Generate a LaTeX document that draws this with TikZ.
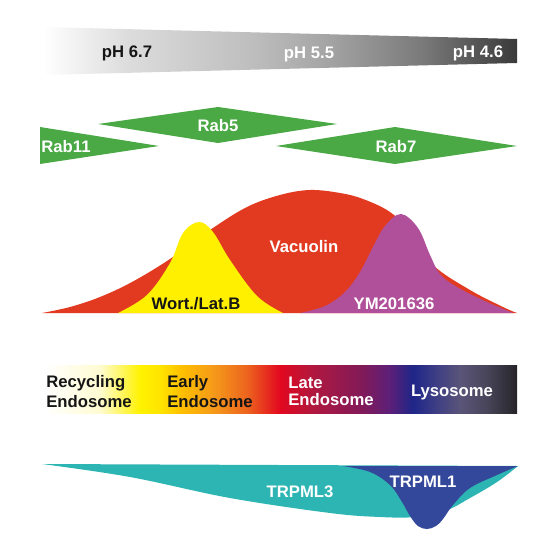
\documentclass[tikz,border=0pt]{standalone}
\usepackage{fontspec}
\setmainfont{Liberation Sans}

\definecolor{rabgreen}{HTML}{4AA845}
\definecolor{vacred}{HTML}{E23A20}
\definecolor{wortyellow}{HTML}{FFF000}
\definecolor{ympurple}{HTML}{B0509A}
\definecolor{mlteal}{HTML}{2CB5B3}
\definecolor{mlnavy}{HTML}{33489A}
\definecolor{inkblack}{HTML}{151515}

% pH gradient colours
\definecolor{phB}{HTML}{DCDCDC}
\definecolor{phC}{HTML}{BEBEBE}
\definecolor{phD}{HTML}{A4A4A4}
\definecolor{phE}{HTML}{7A7A7A}
\definecolor{phF}{HTML}{3A3A3A}
\pgfdeclarehorizontalshading{phbar}{100bp}{color(0bp)=(white); color(25bp)=(white);
  color(34bp)=(phB); color(47bp)=(phC); color(55bp)=(phD); color(65bp)=(phE);
  color(75bp)=(phF); color(100bp)=(phF)}

% endosome gradient colours
\definecolor{endoA}{HTML}{FFFBD2}
\definecolor{endoB}{HTML}{FFF200}
\definecolor{endoC}{HTML}{FFE400}
\definecolor{endoD}{HTML}{FFBF00}
\definecolor{endoE}{HTML}{F59A1A}
\definecolor{endoF}{HTML}{EC641E}
\definecolor{endoG}{HTML}{E2081F}
\definecolor{endoH}{HTML}{B0183F}
\definecolor{endoI}{HTML}{801A5A}
\definecolor{endoJ}{HTML}{5C1F78}
\definecolor{endoK}{HTML}{1E2688}
\definecolor{endoL}{HTML}{3D3D85}
\definecolor{endoM}{HTML}{5A5478}
\definecolor{endoN}{HTML}{48455A}
\definecolor{endoO}{HTML}{262428}
\pgfdeclarehorizontalshading{endobar}{100bp}{color(0bp)=(white); color(25bp)=(white);
  color(30.8bp)=(endoA); color(35.1bp)=(endoB); color(37.2bp)=(endoC);
  color(39.5bp)=(endoD); color(42.8bp)=(endoE); color(46.4bp)=(endoF);
  color(49.9bp)=(endoG); color(53.4bp)=(endoH); color(58.7bp)=(endoI);
  color(61.5bp)=(endoJ); color(64bp)=(endoK); color(66.3bp)=(endoL);
  color(69bp)=(endoM); color(71.8bp)=(endoN); color(75bp)=(endoO); color(100bp)=(endoO)}

\begin{document}
\begin{tikzpicture}[
    x=0.02cm, y=-0.02cm,
    lbl/.style={font=\fontsize{9.5}{11.5}\selectfont\bfseries, inner sep=0pt, text=inkblack},
    wlbl/.style={lbl, text=white},
    twoline/.style={lbl, align=left, anchor=west},
    rab/.style={fill=rabgreen}
]
\useasboundingbox (0,0) rectangle (550,550);

% pH gradient
\shade[shading=phbar] (43,27) -- (517,39) -- (517,63) -- (43,75) -- cycle;
\node[lbl, anchor=base] (ph67) at (127,58) {pH 6.7};
\node[wlbl, anchor=base] (ph55) at (309,59) {pH 5.5};
\node[wlbl, anchor=base] (ph46) at (478,58) {pH 4.6};

% Rab domains
\fill[rab] (40,127) -- (159,146) -- (40,164) -- cycle;
\fill[rab] (98,124) -- (218,107) -- (337,124) -- (218,143) -- cycle;
\fill[rab] (276,146) -- (395,127) -- (517,146) -- (395,164) -- cycle;
\node[wlbl, anchor=base] (rab11) at (66,153) {Rab11};
\node[wlbl, anchor=base] (rab5) at (218,132) {Rab5};
\node[wlbl, anchor=base] (rab7) at (396,153) {Rab7};

% Inhibitor profiles
\fill[vacred] plot[smooth, tension=0.6] coordinates {(42,313) (70,307) (100,297)
  (132,282) (170,259) (210,230) (247,207) (280,195) (310,190) (340,193) (363,199)
  (390,212) (410,232) (433,265) (470,290) (503,307) (517,313)} -- cycle;
\fill[wortyellow] plot[smooth, tension=0.6] coordinates {(118,313) (147,295)
  (170,263) (183,233) (199,222) (213,232) (230,260) (257,296) (283,313)} -- cycle;
\fill[ympurple] plot[smooth, tension=0.6] coordinates {(300,313) (325,306)
  (345,292) (360,272) (373,247) (385,226) (401,214) (418,228) (430,255) (440,274)
  (457,287) (487,302) (513,313)} -- cycle;
\node[wlbl, anchor=base] (vacuolin) at (304,253) {Vacuolin};
\node[lbl, anchor=base] (wort) at (196,309) {Wort./Lat.B};
\node[wlbl, anchor=base] (ym) at (394,309) {YM201636};

% Endocytic compartments
\shade[shading=endobar] (45,365) rectangle (517,413);
\node[twoline] (recycling) at (46,391.5) {Recycling\\Endosome};
\node[twoline] (early) at (167,391.5) {Early\\Endosome};
\node[twoline, text=white, font=\fontsize{9.5}{9.6}\selectfont\bfseries] (late) at (288,391.5) {Late\\Endosome};
\node[wlbl, anchor=base] (lyso) at (452,396) {Lysosome};

% TRPML channels
\fill[mlteal] plot[smooth, tension=0.6] coordinates {(518,466) (497,482) (470,498)
  (445,511) (415,517) (380,517) (330,513) (230,498) (130,477) (42,464)} -- cycle;
\fill[mlnavy] plot[smooth, tension=0.6] coordinates {(343,466) (370,472) (390,485)
  (402,502) (410,516) (418,526) (427,529) (436,526) (443,519) (453,505) (470,488)
  (497,475) (518,466)} -- cycle;
\node[wlbl, anchor=base] (trpml3) at (300,497) {TRPML3};
\node[wlbl, anchor=base] (trpml1) at (423,487) {TRPML1};

\end{tikzpicture}
\end{document}
